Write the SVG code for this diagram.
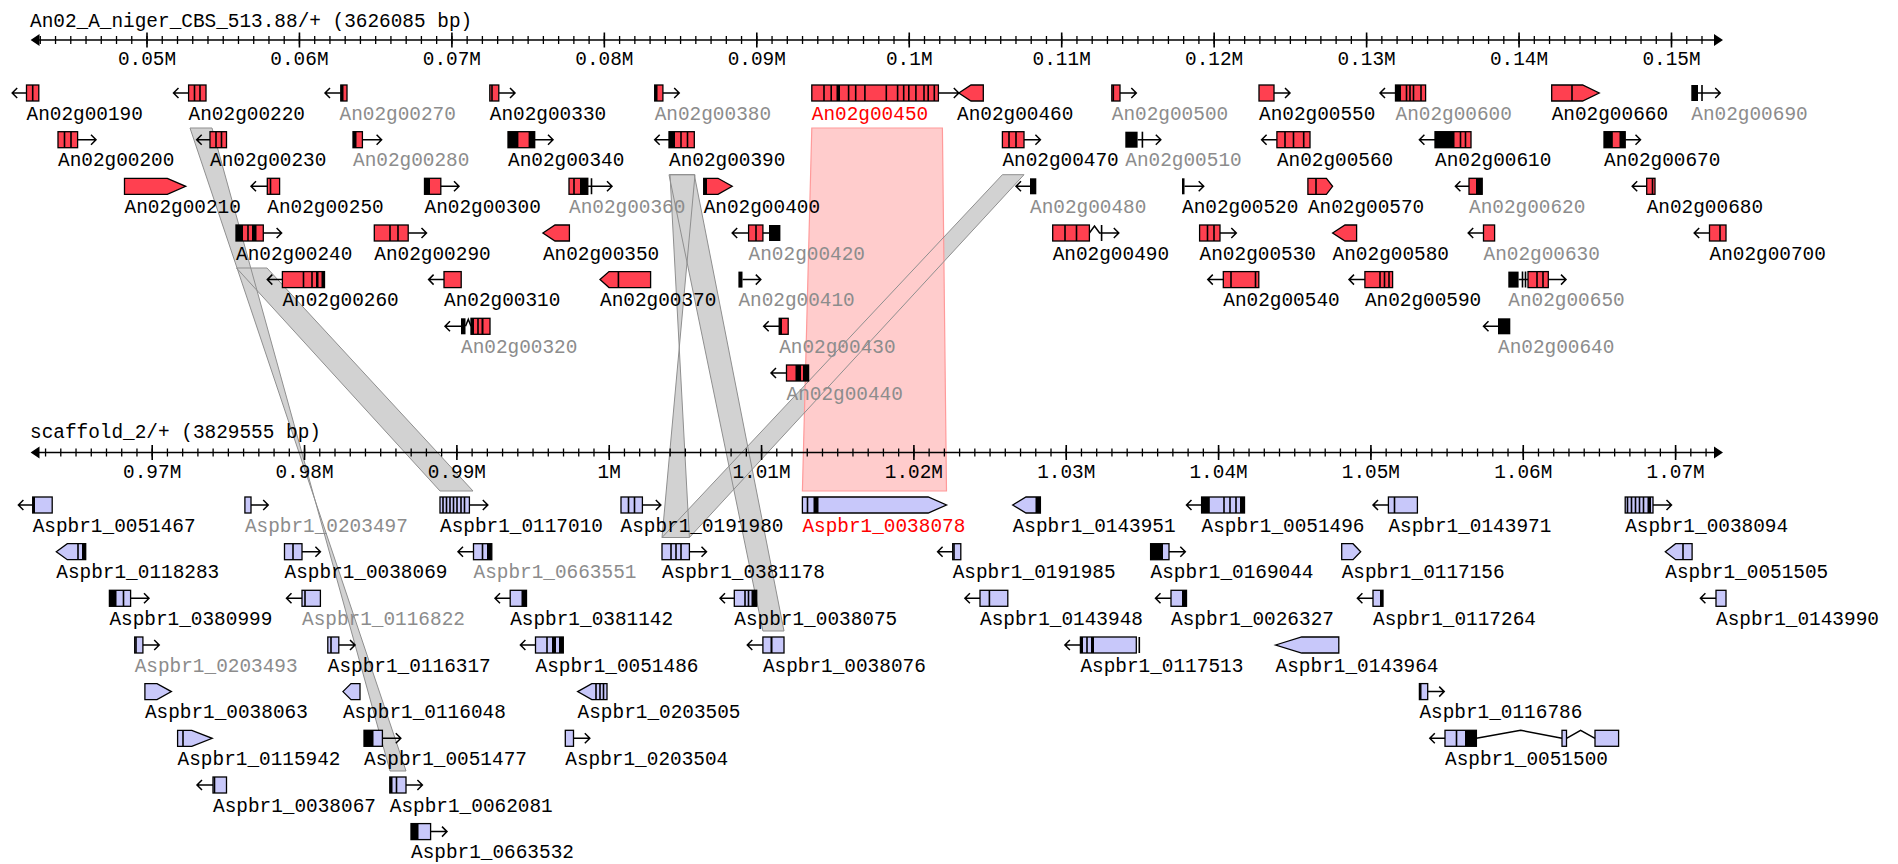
<svg xmlns="http://www.w3.org/2000/svg" xmlns:xlink="http://www.w3.org/1999/xlink" width="1898" height="864" viewBox="0 0 1898 864">
<style>
.t{font-family:"Liberation Mono","DejaVu Sans Mono",monospace;font-size:19.4px;fill:#000}
.g{fill:#8c8c8c}
.r{fill:#ff0000}
.rb{fill:#ff4050;stroke:#000;stroke-width:1.3}
.bb{fill:#c8c8fa;stroke:#000;stroke-width:1.3}
.k{fill:#000}
.s{fill:none;stroke:#000;stroke-width:1.6}
.ar{fill:none;stroke:#000;stroke-width:1.5}
.ax{fill:none;stroke:#000;stroke-width:1.6}
</style>
<defs>
<path id="b1" d="M190 128L212 128L390 771L406 771Z"/>
<path id="b2" d="M236.5 268L267 268L473 491L440 491Z"/>
<path id="b3" d="M670 174.7L695 174.7L662 537.5L689.4 537.5Z"/>
<path id="b4" d="M669 174.7L694.3 174.7L784 631L762.9 631Z"/>
<path id="b5" d="M1002.4 174.7L1024 174.7L689.4 537.5L662 537.5Z"/>
</defs>
<rect width="1898" height="864" fill="#fff"/>

<!-- synteny blocks between the two tracks -->
<g id="synteny">
<g fill="#d2d2d2">
<use xlink:href="#b1"/><use xlink:href="#b2"/><use xlink:href="#b3"/><use xlink:href="#b4"/><use xlink:href="#b5"/>
</g>
<path id="hit-An02g00450" d="M811.8 128H942.4L946.5 491H802.4Z" fill="#ffcccc" stroke="#ff9a9a" stroke-width="1.2"/>
<g fill="none" stroke="#8f8f8f" stroke-width="1">
<use xlink:href="#b1"/><use xlink:href="#b2"/><use xlink:href="#b3"/><use xlink:href="#b4"/><use xlink:href="#b5"/>
</g>
</g>

<!-- top ruler -->
<g id="ruler-top">
<text class="t" x="30" y="27">An02_A_niger_CBS_513.88/+ (3626085 bp)</text>
<path class="ax" d="M34 40H1719"/>
<path d="M30.6 40L39.5 34V46Z M1723 40L1714 34V46Z" fill="#000"/>
<line x1="39.64" y1="40" x2="1703" y2="40" stroke="#000" stroke-width="8" stroke-dasharray="1.3 13.945"/>
<path class="ax" d="M147 32.5v15M299.45 32.5v15M451.9 32.5v15M604.35 32.5v15M756.8 32.5v15M909.25 32.5v15M1061.7 32.5v15M1214.15 32.5v15M1366.6 32.5v15M1519.05 32.5v15M1671.5 32.5v15"/>
<g class="t" text-anchor="middle">
<text x="147" y="65">0.05M</text><text x="299.45" y="65">0.06M</text><text x="451.9" y="65">0.07M</text><text x="604.35" y="65">0.08M</text><text x="756.8" y="65">0.09M</text><text x="909.25" y="65">0.1M</text><text x="1061.7" y="65">0.11M</text><text x="1214.15" y="65">0.12M</text><text x="1366.6" y="65">0.13M</text><text x="1519.05" y="65">0.14M</text><text x="1671.5" y="65">0.15M</text>
</g>
</g>

<!-- bottom ruler -->
<g id="ruler-bottom">
<text class="t" x="30" y="438">scaffold_2/+ (3829555 bp)</text>
<path class="ax" d="M34 452.5H1719"/>
<path d="M30.6 452.5L39.5 446.5V458.5Z M1723 452.5L1714 446.5V458.5Z" fill="#000"/>
<line x1="44.91" y1="452.5" x2="1708" y2="452.5" stroke="#000" stroke-width="8" stroke-dasharray="1.3 13.934"/>
<path class="ax" d="M152.2 445v15M304.54 445v15M456.88 445v15M609.22 445v15M761.56 445v15M913.9 445v15M1066.24 445v15M1218.58 445v15M1370.92 445v15M1523.26 445v15M1675.6 445v15"/>
<g class="t" text-anchor="middle">
<text x="152.2" y="478">0.97M</text><text x="304.54" y="478">0.98M</text><text x="456.88" y="478">0.99M</text><text x="609.22" y="478">1M</text><text x="761.56" y="478">1.01M</text><text x="913.9" y="478">1.02M</text><text x="1066.24" y="478">1.03M</text><text x="1218.58" y="478">1.04M</text><text x="1370.92" y="478">1.05M</text><text x="1523.26" y="478">1.06M</text><text x="1675.6" y="478">1.07M</text>
</g>
</g>

<!-- A. niger genes -->
<g id="An02g00190" transform="translate(0,93)"><path class="ar" d="M26.5 0H12.2M17.2-5 12.2 0 17.2 5"/><rect class="rb" x="26.5" y="-8" width="12.3" height="16"/><path class="s" d="M32.7-8v16"/><text class="t" x="26.5" y="26.5">An02g00190</text></g>
<g id="An02g00220" transform="translate(0,93)"><path class="ar" d="M188.6 0H173.5M178.5-5 173.5 0 178.5 5"/><rect class="rb" x="188.6" y="-8" width="17.4" height="16"/><path class="s" d="M194.5-8v16M200-8v16"/><text class="t" x="188.6" y="26.5">An02g00220</text></g>
<g id="An02g00270" transform="translate(0,93)"><path class="ar" d="M340.8 0H325M330-5 325 0 330 5"/><rect class="rb" x="340.8" y="-8" width="6.2" height="16"/><rect class="k" x="340.8" y="-8" width="2.7" height="16"/><text class="t g" x="339.5" y="26.5">An02g00270</text></g>
<g id="An02g00330" transform="translate(0,93)"><path class="ar" d="M498.8 0H515M510-5 515 0 510 5"/><rect class="rb" x="489.8" y="-8" width="9" height="16"/><path class="s" d="M492-8v16"/><text class="t" x="489.8" y="26.5">An02g00330</text></g>
<g id="An02g00380" transform="translate(0,93)"><path class="ar" d="M662.9 0H679.2M674.2-5 679.2 0 674.2 5"/><rect class="rb" x="654.7" y="-8" width="8.2" height="16"/><rect class="k" x="654.7" y="-8" width="2.8" height="16"/><text class="t g" x="654.7" y="26.5">An02g00380</text></g>
<g id="An02g00450" transform="translate(0,93)"><path class="ar" d="M938.4 0H958.8M953.8-5 958.8 0 953.8 5"/><rect class="rb" x="811.8" y="-8" width="126.6" height="16"/><rect class="k" x="836.5" y="-8" width="3.5" height="16"/><path class="s" d="M824-8v16M831.2-8v16M848.6-8v16M855.7-8v16M864.9-8v16M886.3-8v16M897.6-8v16M903.7-8v16M908.8-8v16M915.9-8v16M924-8v16M928.2-8v16M934.3-8v16"/><text class="t r" x="811.8" y="26.5">An02g00450</text></g>
<g id="An02g00460" transform="translate(0,93)"><path class="rb" d="M958.8 0 971-8H983.3V8H971Z"/><text class="t" x="957" y="26.5">An02g00460</text></g>
<g id="An02g00500" transform="translate(0,93)"><path class="ar" d="M1120 0H1136.3M1131.3-5 1136.3 0 1131.3 5"/><rect class="rb" x="1111.8" y="-8" width="8.2" height="16"/><path class="s" d="M1113.3-8v16"/><text class="t g" x="1111.8" y="26.5">An02g00500</text></g>
<g id="An02g00550" transform="translate(0,93)"><path class="ar" d="M1274 0H1290M1285-5 1290 0 1285 5"/><rect class="rb" x="1259" y="-8" width="15" height="16"/><text class="t" x="1259" y="26.5">An02g00550</text></g>
<g id="An02g00600" transform="translate(0,93)"><path class="ar" d="M1395.5 0H1380M1385-5 1380 0 1385 5"/><rect class="rb" x="1395.5" y="-8" width="30.1" height="16"/><rect class="k" x="1395.5" y="-8" width="5.5" height="16"/><path class="s" d="M1406.5-8v16M1410-8v16M1413.5-8v16M1421-8v16"/><text class="t g" x="1395.5" y="26.5">An02g00600</text></g>
<g id="An02g00660" transform="translate(0,93)"><path class="rb" d="M1551.7-8H1582.6L1599.2 0 1582.6 8H1551.7Z"/><path class="s" d="M1572-8v16"/><text class="t" x="1551.7" y="26.5">An02g00660</text></g>
<g id="An02g00690" transform="translate(0,93)"><path class="ar" d="M1698 0H1720.2M1715.2-5 1720.2 0 1715.2 5"/><rect class="k" x="1691.3" y="-8" width="6.7" height="16"/><path class="s" d="M1702-8v16"/><text class="t g" x="1691.3" y="26.5">An02g00690</text></g>

<g id="An02g00200" transform="translate(0,139.7)"><path class="ar" d="M77.6 0H96M91-5 96 0 91 5"/><rect class="rb" x="58" y="-8" width="19.6" height="16"/><path class="s" d="M64.5-8v16M71-8v16"/><text class="t" x="58" y="26.5">An02g00200</text></g>
<g id="An02g00230" transform="translate(0,139.7)"><path class="ar" d="M210 0H196.7M201.7-5 196.7 0 201.7 5"/><rect class="rb" x="210" y="-8" width="16.5" height="16"/><path class="s" d="M216-8v16M221.5-8v16"/><text class="t" x="210" y="26.5">An02g00230</text></g>
<g id="An02g00280" transform="translate(0,139.7)"><path class="ar" d="M362.4 0H381.6M376.6-5 381.6 0 376.6 5"/><rect class="rb" x="353" y="-8" width="9.4" height="16"/><rect class="k" x="353" y="-8" width="3.5" height="16"/><text class="t g" x="353" y="26.5">An02g00280</text></g>
<g id="An02g00340" transform="translate(0,139.7)"><path class="ar" d="M534.7 0H553M548-5 553 0 548 5"/><rect class="rb" x="508" y="-8" width="26.7" height="16"/><rect class="k" x="508" y="-8" width="10.4" height="16"/><rect class="k" x="528.6" y="-8" width="6.1" height="16"/><text class="t" x="508" y="26.5">An02g00340</text></g>
<g id="An02g00390" transform="translate(0,139.7)"><path class="ar" d="M669 0H654.7M659.7-5 654.7 0 659.7 5"/><rect class="rb" x="669" y="-8" width="25.3" height="16"/><rect class="k" x="669" y="-8" width="6" height="16"/><path class="s" d="M681-8v16M687.5-8v16"/><text class="t" x="669" y="26.5">An02g00390</text></g>
<g id="An02g00470" transform="translate(0,139.7)"><path class="ar" d="M1024 0H1040.4M1035.4-5 1040.4 0 1035.4 5"/><rect class="rb" x="1002.4" y="-8" width="21.6" height="16"/><path class="s" d="M1009-8v16M1016-8v16"/><text class="t" x="1002.4" y="26.5">An02g00470</text></g>
<g id="An02g00510" transform="translate(0,139.7)"><path class="ar" d="M1137.6 0H1160.8M1155.8-5 1160.8 0 1155.8 5"/><rect class="k" x="1125.3" y="-8" width="12.3" height="16"/><path class="s" d="M1142.4-8v16"/><text class="t g" x="1125.3" y="26.5">An02g00510</text></g>
<g id="An02g00560" transform="translate(0,139.7)"><path class="ar" d="M1276.9 0H1261.6M1266.6-5 1261.6 0 1266.6 5"/><rect class="rb" x="1276.9" y="-8" width="33.1" height="16"/><path class="s" d="M1285-8v16M1293.5-8v16M1303.7-8v16"/><text class="t" x="1276.9" y="26.5">An02g00560</text></g>
<g id="An02g00610" transform="translate(0,139.7)"><path class="ar" d="M1435 0H1419.4M1424.4-5 1419.4 0 1424.4 5"/><rect class="rb" x="1435" y="-8" width="36" height="16"/><rect class="k" x="1435" y="-8" width="19.5" height="16"/><path class="s" d="M1460.5-8v16M1465.5-8v16"/><text class="t" x="1435" y="26.5">An02g00610</text></g>
<g id="An02g00670" transform="translate(0,139.7)"><path class="ar" d="M1625.2 0H1640.5M1635.5-5 1640.5 0 1635.5 5"/><rect class="rb" x="1604" y="-8" width="21.2" height="16"/><rect class="k" x="1604" y="-8" width="8.8" height="16"/><rect class="k" x="1619.5" y="-8" width="5.7" height="16"/><text class="t" x="1604" y="26.5">An02g00670</text></g>

<g id="An02g00210" transform="translate(0,186.3)"><path class="rb" d="M124.5-8H167.3L185.7 0 167.3 8H124.5Z"/><text class="t" x="124.5" y="26.5">An02g00210</text></g>
<g id="An02g00250" transform="translate(0,186.3)"><path class="ar" d="M267.3 0H251M256-5 251 0 256 5"/><rect class="rb" x="267.3" y="-8" width="12.3" height="16"/><path class="s" d="M270.5-8v16"/><text class="t" x="267.3" y="26.5">An02g00250</text></g>
<g id="An02g00300" transform="translate(0,186.3)"><path class="ar" d="M440.8 0H459M454-5 459 0 454 5"/><rect class="rb" x="424.5" y="-8" width="16.3" height="16"/><rect class="k" x="424.5" y="-8" width="5.5" height="16"/><text class="t" x="424.5" y="26.5">An02g00300</text></g>
<g id="An02g00360" transform="translate(0,186.3)"><path class="ar" d="M587.8 0H612M607-5 612 0 607 5"/><rect class="rb" x="569" y="-8" width="18.8" height="16"/><path class="s" d="M574-8v16M591.5-8v16"/><rect class="k" x="580" y="-8" width="7.8" height="16"/><text class="t g" x="569" y="26.5">An02g00360</text></g>
<g id="An02g00400" transform="translate(0,186.3)"><path class="rb" d="M703.7-8H718L732.2 0 718 8H703.7Z"/><rect class="k" x="703.7" y="-8" width="3.3" height="16"/><text class="t" x="703.7" y="26.5">An02g00400</text></g>
<g id="An02g00480" transform="translate(0,186.3)"><path class="ar" d="M1030 0H1016M1021-5 1016 0 1021 5"/><rect class="k" x="1030" y="-8" width="6.3" height="16"/><text class="t g" x="1030" y="26.5">An02g00480</text></g>
<g id="An02g00520" transform="translate(0,186.3)"><path class="ar" d="M1184.5 0H1203.7M1198.7-5 1203.7 0 1198.7 5"/><rect class="k" x="1182" y="-8" width="2.5" height="16"/><text class="t" x="1182" y="26.5">An02g00520</text></g>
<g id="An02g00570" transform="translate(0,186.3)"><path class="rb" d="M1307.9-8H1326.4L1332.6 0 1326.4 8H1307.9Z"/><path class="s" d="M1316-8v16"/><text class="t" x="1307.9" y="26.5">An02g00570</text></g>
<g id="An02g00620" transform="translate(0,186.3)"><path class="ar" d="M1469 0H1455.4M1460.4-5 1455.4 0 1460.4 5"/><rect class="rb" x="1469" y="-8" width="13.2" height="16"/><rect class="k" x="1476" y="-8" width="6.2" height="16"/><text class="t g" x="1469" y="26.5">An02g00620</text></g>
<g id="An02g00680" transform="translate(0,186.3)"><path class="ar" d="M1646.7 0H1632.2M1637.2-5 1632.2 0 1637.2 5"/><rect class="rb" x="1646.7" y="-8" width="8.3" height="16"/><path class="s" d="M1652.5-8v16"/><text class="t" x="1646.7" y="26.5">An02g00680</text></g>

<g id="An02g00240" transform="translate(0,233)"><path class="ar" d="M263.3 0H281.6M276.6-5 281.6 0 276.6 5"/><rect class="rb" x="236" y="-8" width="27.3" height="16"/><rect class="k" x="236" y="-8" width="7" height="16"/><path class="s" d="M248-8v16"/><rect class="k" x="252" y="-8" width="4.5" height="16"/><text class="t" x="236" y="26.5">An02g00240</text></g>
<g id="An02g00290" transform="translate(0,233)"><path class="ar" d="M408.2 0H426.5M421.5-5 426.5 0 421.5 5"/><rect class="rb" x="374.3" y="-8" width="33.9" height="16"/><path class="s" d="M390-8v16M398-8v16"/><text class="t" x="374.3" y="26.5">An02g00290</text></g>
<g id="An02g00350" transform="translate(0,233)"><path class="rb" d="M542.9 0 555-8H569.4V8H555Z"/><text class="t" x="542.9" y="26.5">An02g00350</text></g>
<g id="An02g00420" transform="translate(0,233)"><path class="ar" d="M769 0H732.2M737.2-5 732.2 0 737.2 5"/><rect class="rb" x="748.6" y="-8" width="14.3" height="16"/><path class="s" d="M756-8v16"/><rect class="k" x="769" y="-8" width="11.4" height="16"/><text class="t g" x="748.6" y="26.5">An02g00420</text></g>
<g id="An02g00490" transform="translate(0,233)"><path class="ar" d="M1089.4 0 1094.5-7 1099.6 0H1118.8M1113.8-5 1118.8 0 1113.8 5"/><rect class="rb" x="1052.7" y="-8" width="36.7" height="16"/><path class="s" d="M1065-8v16M1076.5-8v16M1101.6-8v16"/><text class="t" x="1052.7" y="26.5">An02g00490</text></g>
<g id="An02g00530" transform="translate(0,233)"><path class="ar" d="M1220 0H1236.3M1231.3-5 1236.3 0 1231.3 5"/><rect class="rb" x="1199.6" y="-8" width="20.4" height="16"/><path class="s" d="M1207.5-8v16M1214-8v16"/><text class="t" x="1199.6" y="26.5">An02g00530</text></g>
<g id="An02g00580" transform="translate(0,233)"><path class="rb" d="M1332.6 0 1345-8H1356.6V8H1345Z"/><text class="t" x="1332.6" y="26.5">An02g00580</text></g>
<g id="An02g00630" transform="translate(0,233)"><path class="ar" d="M1483.5 0H1468.2M1473.2-5 1468.2 0 1473.2 5"/><rect class="rb" x="1483.5" y="-8" width="11.1" height="16"/><text class="t g" x="1483.5" y="26.5">An02g00630</text></g>
<g id="An02g00700" transform="translate(0,233)"><path class="ar" d="M1709.5 0H1694.2M1699.2-5 1694.2 0 1699.2 5"/><rect class="rb" x="1709.5" y="-8" width="16.5" height="16"/><path class="s" d="M1720-8v16"/><text class="t" x="1709.5" y="26.5">An02g00700</text></g>

<g id="An02g00260" transform="translate(0,279.6)"><path class="ar" d="M282.4 0H267.3M272.3-5 267.3 0 272.3 5"/><rect class="rb" x="282.4" y="-8" width="42.1" height="16"/><path class="s" d="M303.5-8v16M312-8v16"/><rect class="k" x="316" y="-8" width="2.5" height="16"/><rect class="k" x="321.5" y="-8" width="3" height="16"/><text class="t" x="282.4" y="26.5">An02g00260</text></g>
<g id="An02g00310" transform="translate(0,279.6)"><path class="ar" d="M444 0H428.6M433.6-5 428.6 0 433.6 5"/><rect class="rb" x="444" y="-8" width="17.2" height="16"/><text class="t" x="444" y="26.5">An02g00310</text></g>
<g id="An02g00370" transform="translate(0,279.6)"><path class="rb" d="M600 0 609-8H650.6V8H609Z"/><path class="s" d="M618.4-8v16"/><text class="t" x="600" y="26.5">An02g00370</text></g>
<g id="An02g00410" transform="translate(0,279.6)"><path class="ar" d="M742.5 0H760.8M755.8-5 760.8 0 755.8 5"/><rect class="k" x="738.4" y="-8" width="4.1" height="16"/><text class="t g" x="738.4" y="26.5">An02g00410</text></g>
<g id="An02g00540" transform="translate(0,279.6)"><path class="ar" d="M1223.3 0H1207.8M1212.8-5 1207.8 0 1212.8 5"/><rect class="rb" x="1223.3" y="-8" width="35.5" height="16"/><path class="s" d="M1231-8v16M1255.5-8v16"/><text class="t" x="1223.3" y="26.5">An02g00540</text></g>
<g id="An02g00590" transform="translate(0,279.6)"><path class="ar" d="M1364.9 0H1349M1354-5 1349 0 1354 5"/><rect class="rb" x="1364.9" y="-8" width="27.7" height="16"/><path class="s" d="M1380-8v16M1384.5-8v16M1389-8v16"/><text class="t" x="1364.9" y="26.5">An02g00590</text></g>
<g id="An02g00650" transform="translate(0,279.6)"><path class="ar" d="M1518.6 0H1528M1548.3 0H1566M1561-5 1566 0 1561 5"/><rect class="k" x="1508.3" y="-8" width="10.3" height="16"/><path class="s" d="M1522.5-8v16M1525.5-8v16"/><rect class="rb" x="1528" y="-8" width="20.3" height="16"/><path class="s" d="M1537-8v16M1543-8v16"/><text class="t g" x="1508.3" y="26.5">An02g00650</text></g>

<g id="An02g00320" transform="translate(0,326.3)"><path class="ar" d="M461 0H445M450-5 445 0 450 5M465.5 0 468.3-7 471 0"/><rect class="k" x="461" y="-8" width="4.5" height="16"/><rect class="rb" x="471" y="-8" width="19" height="16"/><rect class="k" x="471" y="-8" width="3" height="16"/><path class="s" d="M478-8v16"/><rect class="k" x="481.5" y="-8" width="2" height="16"/><text class="t g" x="461" y="26.5">An02g00320</text></g>
<g id="An02g00430" transform="translate(0,326.3)"><path class="ar" d="M779.2 0H763.7M768.7-5 763.7 0 768.7 5"/><rect class="rb" x="779.2" y="-8" width="9" height="16"/><rect class="k" x="779.2" y="-8" width="2.8" height="16"/><text class="t g" x="779.2" y="26.5">An02g00430</text></g>
<g id="An02g00640" transform="translate(0,326.3)"><path class="ar" d="M1498 0H1483.5M1488.5-5 1483.5 0 1488.5 5"/><rect class="k" x="1498" y="-8" width="12.3" height="16"/><text class="t g" x="1498" y="26.5">An02g00640</text></g>

<g id="An02g00440" transform="translate(0,373)"><path class="ar" d="M786.5 0H771M776-5 771 0 776 5"/><rect class="rb" x="786.5" y="-8" width="22.1" height="16"/><rect class="k" x="795.5" y="-8" width="5.5" height="16"/><rect class="k" x="803" y="-8" width="5.6" height="16"/><text class="t g" x="786.5" y="26.5">An02g00440</text></g>

<!-- A. brasiliensis genes -->
<g id="Aspbr1_0051467" transform="translate(0,505)"><path class="ar" d="M32.7 0H18.4M23.4-5 18.4 0 23.4 5"/><rect class="bb" x="32.7" y="-8" width="19.5" height="16"/><rect class="k" x="32.7" y="-8" width="2.3" height="16"/><text class="t" x="32.7" y="26.5">Aspbr1_0051467</text></g>
<g id="Aspbr1_0203497" transform="translate(0,505)"><path class="ar" d="M251 0H268.2M263.2-5 268.2 0 263.2 5"/><rect class="bb" x="244.9" y="-8" width="6.1" height="16"/><text class="t g" x="244.9" y="26.5">Aspbr1_0203497</text></g>
<g id="Aspbr1_0117010" transform="translate(0,505)"><path class="ar" d="M469.4 0H487.8M482.8-5 487.8 0 482.8 5"/><rect class="bb" x="440" y="-8" width="29.4" height="16"/><path class="s" d="M443-8v16M446.5-8v16M450-8v16M453.5-8v16M457-8v16M461-8v16M464.5-8v16"/><text class="t" x="440" y="26.5">Aspbr1_0117010</text></g>
<g id="Aspbr1_0191980" transform="translate(0,505)"><path class="ar" d="M642.4 0H660.8M655.8-5 660.8 0 655.8 5"/><rect class="bb" x="621" y="-8" width="21.4" height="16"/><path class="s" d="M628.5-8v16M634.5-8v16"/><text class="t" x="620.5" y="26.5">Aspbr1_0191980</text></g>
<g id="Aspbr1_0038078" transform="translate(0,505)"><path class="bb" d="M802.4-8H928.2L946.5 0 928.2 8H802.4Z"/><path class="s" d="M807.5-8v16"/><rect class="k" x="813.5" y="-8" width="5" height="16"/><text class="t r" x="802.4" y="26.5">Aspbr1_0038078</text></g>
<g id="Aspbr1_0143951" transform="translate(0,505)"><path class="bb" d="M1012.7 0 1026-8H1040.4V8H1026Z"/><rect class="k" x="1035.5" y="-8" width="4.9" height="16"/><text class="t" x="1012.7" y="26.5">Aspbr1_0143951</text></g>
<g id="Aspbr1_0051496" transform="translate(0,505)"><path class="ar" d="M1201.6 0H1186.5M1191.5-5 1186.5 0 1191.5 5"/><rect class="bb" x="1201.6" y="-8" width="42.9" height="16"/><rect class="k" x="1201.6" y="-8" width="8.2" height="16"/><path class="s" d="M1224-8v16M1230-8v16M1236-8v16"/><rect class="k" x="1240" y="-8" width="4.5" height="16"/><text class="t" x="1201.6" y="26.5">Aspbr1_0051496</text></g>
<g id="Aspbr1_0143971" transform="translate(0,505)"><path class="ar" d="M1388.4 0H1373M1378-5 1373 0 1378 5"/><rect class="bb" x="1388.4" y="-8" width="29" height="16"/><path class="s" d="M1394.5-8v16"/><text class="t" x="1388.4" y="26.5">Aspbr1_0143971</text></g>
<g id="Aspbr1_0038094" transform="translate(0,505)"><path class="ar" d="M1653 0H1671.5M1666.5-5 1671.5 0 1666.5 5"/><rect class="bb" x="1625.2" y="-8" width="27.8" height="16"/><path class="s" d="M1627.5-8v16M1631.5-8v16M1635.5-8v16M1639.5-8v16M1643.5-8v16"/><rect class="k" x="1647.5" y="-8" width="3.5" height="16"/><text class="t" x="1625.2" y="26.5">Aspbr1_0038094</text></g>

<g id="Aspbr1_0118283" transform="translate(0,551.7)"><path class="bb" d="M56.3 0 67.3-8H85.7V8H67.3Z"/><path class="s" d="M78-8v16"/><rect class="k" x="82" y="-8" width="3.7" height="16"/><text class="t" x="56.3" y="26.5">Aspbr1_0118283</text></g>
<g id="Aspbr1_0038069" transform="translate(0,551.7)"><path class="ar" d="M302 0H320.4M315.4-5 320.4 0 315.4 5"/><rect class="bb" x="284.5" y="-8" width="17.5" height="16"/><path class="s" d="M293-8v16"/><text class="t" x="284.5" y="26.5">Aspbr1_0038069</text></g>
<g id="Aspbr1_0663551" transform="translate(0,551.7)"><path class="ar" d="M473.5 0H458M463-5 458 0 463 5"/><rect class="bb" x="473.5" y="-8" width="18.3" height="16"/><path class="s" d="M482.5-8v16"/><rect class="k" x="487" y="-8" width="4.8" height="16"/><text class="t g" x="473.5" y="26.5">Aspbr1_0663551</text></g>
<g id="Aspbr1_0381178" transform="translate(0,551.7)"><path class="ar" d="M689.4 0H706.5M701.5-5 706.5 0 701.5 5"/><rect class="bb" x="662" y="-8" width="27.4" height="16"/><path class="s" d="M671-8v16M676-8v16M681-8v16"/><text class="t" x="662" y="26.5">Aspbr1_0381178</text></g>
<g id="Aspbr1_0191985" transform="translate(0,551.7)"><path class="ar" d="M952.7 0H937.6M942.6-5 937.6 0 942.6 5"/><rect class="bb" x="952.7" y="-8" width="8.1" height="16"/><path class="s" d="M954-8v16"/><text class="t" x="952.7" y="26.5">Aspbr1_0191985</text></g>
<g id="Aspbr1_0169044" transform="translate(0,551.7)"><path class="ar" d="M1169 0H1185.3M1180.3-5 1185.3 0 1180.3 5"/><rect class="bb" x="1150.6" y="-8" width="18.4" height="16"/><rect class="k" x="1150.6" y="-8" width="12.4" height="16"/><text class="t" x="1150.6" y="26.5">Aspbr1_0169044</text></g>
<g id="Aspbr1_0117156" transform="translate(0,551.7)"><path class="bb" d="M1341.7-8H1353L1360.7 0 1353 8H1341.7Z"/><text class="t" x="1341.7" y="26.5">Aspbr1_0117156</text></g>
<g id="Aspbr1_0051505" transform="translate(0,551.7)"><path class="bb" d="M1665.3 0 1675.6-8H1692.1V8H1675.6Z"/><path class="s" d="M1683-8v16"/><text class="t" x="1665.3" y="26.5">Aspbr1_0051505</text></g>

<g id="Aspbr1_0380999" transform="translate(0,598.3)"><path class="ar" d="M130.6 0H149M144-5 149 0 144 5"/><rect class="bb" x="109.4" y="-8" width="21.2" height="16"/><rect class="k" x="109.4" y="-8" width="7.1" height="16"/><path class="s" d="M123.5-8v16"/><text class="t" x="109.4" y="26.5">Aspbr1_0380999</text></g>
<g id="Aspbr1_0116822" transform="translate(0,598.3)"><path class="ar" d="M302 0H286.5M291.5-5 286.5 0 291.5 5"/><rect class="bb" x="302" y="-8" width="18.4" height="16"/><path class="s" d="M305-8v16"/><text class="t g" x="302" y="26.5">Aspbr1_0116822</text></g>
<g id="Aspbr1_0381142" transform="translate(0,598.3)"><path class="ar" d="M510.2 0H495M500-5 495 0 500 5"/><rect class="bb" x="510.2" y="-8" width="16.3" height="16"/><rect class="k" x="521.5" y="-8" width="5" height="16"/><text class="t" x="510.2" y="26.5">Aspbr1_0381142</text></g>
<g id="Aspbr1_0038075" transform="translate(0,598.3)"><path class="ar" d="M734.3 0H720M725-5 720 0 725 5"/><rect class="bb" x="734.3" y="-8" width="22.4" height="16"/><path class="s" d="M745-8v16M748.5-8v16"/><rect class="k" x="751.5" y="-8" width="5.2" height="16"/><text class="t" x="734.3" y="26.5">Aspbr1_0038075</text></g>
<g id="Aspbr1_0143948" transform="translate(0,598.3)"><path class="ar" d="M980 0H964.9M969.9-5 964.9 0 969.9 5"/><rect class="bb" x="980" y="-8" width="27.8" height="16"/><path class="s" d="M989.4-8v16"/><text class="t" x="980" y="26.5">Aspbr1_0143948</text></g>
<g id="Aspbr1_0026327" transform="translate(0,598.3)"><path class="ar" d="M1171 0H1155.5M1160.5-5 1155.5 0 1160.5 5"/><rect class="bb" x="1171" y="-8" width="15.5" height="16"/><rect class="k" x="1182" y="-8" width="4.5" height="16"/><text class="t" x="1171" y="26.5">Aspbr1_0026327</text></g>
<g id="Aspbr1_0117264" transform="translate(0,598.3)"><path class="ar" d="M1373 0H1357.4M1362.4-5 1357.4 0 1362.4 5"/><rect class="bb" x="1373" y="-8" width="10" height="16"/><rect class="k" x="1380" y="-8" width="3" height="16"/><text class="t" x="1373" y="26.5">Aspbr1_0117264</text></g>
<g id="Aspbr1_0143990" transform="translate(0,598.3)"><path class="ar" d="M1716 0H1700.4M1705.4-5 1700.4 0 1705.4 5"/><rect class="bb" x="1716" y="-8" width="10" height="16"/><text class="t" x="1716" y="26.5">Aspbr1_0143990</text></g>

<g id="Aspbr1_0203493" transform="translate(0,645)"><path class="ar" d="M142.9 0H159.2M154.2-5 159.2 0 154.2 5"/><rect class="bb" x="134.7" y="-8" width="8.2" height="16"/><path class="s" d="M136-8v16"/><text class="t g" x="134.7" y="26.5">Aspbr1_0203493</text></g>
<g id="Aspbr1_0116317" transform="translate(0,645)"><path class="ar" d="M338.8 0H355M350-5 355 0 350 5"/><rect class="bb" x="327.8" y="-8" width="11" height="16"/><path class="s" d="M331-8v16"/><text class="t" x="327.8" y="26.5">Aspbr1_0116317</text></g>
<g id="Aspbr1_0051486" transform="translate(0,645)"><path class="ar" d="M535.5 0H520.4M525.4-5 520.4 0 525.4 5"/><rect class="bb" x="535.5" y="-8" width="27.8" height="16"/><path class="s" d="M547-8v16"/><rect class="k" x="552" y="-8" width="4" height="16"/><rect class="k" x="559" y="-8" width="4.3" height="16"/><text class="t" x="535.5" y="26.5">Aspbr1_0051486</text></g>
<g id="Aspbr1_0038076" transform="translate(0,645)"><path class="ar" d="M762.9 0H747.3M752.3-5 747.3 0 752.3 5"/><rect class="bb" x="762.9" y="-8" width="21.1" height="16"/><rect class="k" x="770.5" y="-8" width="2" height="16"/><text class="t" x="762.9" y="26.5">Aspbr1_0038076</text></g>
<g id="Aspbr1_0117513" transform="translate(0,645)"><path class="ar" d="M1080.4 0H1064.9M1069.9-5 1064.9 0 1069.9 5"/><rect class="bb" x="1080.4" y="-8" width="55.9" height="16"/><rect class="k" x="1080.4" y="-8" width="2.6" height="16"/><path class="s" d="M1087-8v16M1139.3-8v16"/><rect class="k" x="1091" y="-8" width="3" height="16"/><text class="t" x="1080.4" y="26.5">Aspbr1_0117513</text></g>
<g id="Aspbr1_0143964" transform="translate(0,645)"><path class="bb" d="M1275.6 0 1301.7-8H1338.8V8H1301.7Z"/><text class="t" x="1275.6" y="26.5">Aspbr1_0143964</text></g>

<g id="Aspbr1_0038063" transform="translate(0,691.6)"><path class="bb" d="M144.9-8H157L171.4 0 157 8H144.9Z"/><text class="t" x="144.9" y="26.5">Aspbr1_0038063</text></g>
<g id="Aspbr1_0116048" transform="translate(0,691.6)"><path class="bb" d="M342.9 0 351-8H360V8H351Z"/><text class="t" x="342.9" y="26.5">Aspbr1_0116048</text></g>
<g id="Aspbr1_0203505" transform="translate(0,691.6)"><path class="bb" d="M577.6 0 591.8-8H607V8H591.8Z"/><path class="s" d="M596-8v16M600-8v16M603.5-8v16"/><text class="t" x="577.6" y="26.5">Aspbr1_0203505</text></g>
<g id="Aspbr1_0116786" transform="translate(0,691.6)"><path class="ar" d="M1427.7 0H1444.2M1439.2-5 1444.2 0 1439.2 5"/><rect class="bb" x="1419.4" y="-8" width="8.3" height="16"/><rect class="k" x="1419.4" y="-8" width="2.1" height="16"/><text class="t" x="1419.4" y="26.5">Aspbr1_0116786</text></g>

<g id="Aspbr1_0115942" transform="translate(0,738.3)"><path class="bb" d="M177.6-8H191.8L212.2 0 191.8 8H177.6Z"/><path class="s" d="M183-8v16"/><text class="t" x="177.6" y="26.5">Aspbr1_0115942</text></g>
<g id="Aspbr1_0051477" transform="translate(0,738.3)"><path class="ar" d="M382.4 0H400.8M395.8-5 400.8 0 395.8 5"/><rect class="bb" x="364" y="-8" width="18.4" height="16"/><rect class="k" x="364" y="-8" width="9.5" height="16"/><text class="t" x="364" y="26.5">Aspbr1_0051477</text></g>
<g id="Aspbr1_0203504" transform="translate(0,738.3)"><path class="ar" d="M573.5 0H589.8M584.8-5 589.8 0 584.8 5"/><rect class="bb" x="565.3" y="-8" width="8.2" height="16"/><text class="t" x="565.3" y="26.5">Aspbr1_0203504</text></g>
<g id="Aspbr1_0051500" transform="translate(0,738.3)"><path class="ar" d="M1445 0H1429.8M1434.8-5 1429.8 0 1434.8 5M1476.4 0 1520.7-8 1562 0M1566.5 0 1580.6-8 1595 0"/><rect class="bb" x="1445" y="-8" width="31.4" height="16"/><path class="s" d="M1456.5-8v16"/><rect class="k" x="1465" y="-8" width="11.4" height="16"/><rect class="bb" x="1562" y="-8" width="4.5" height="16"/><rect class="bb" x="1595" y="-8" width="23.6" height="16"/><text class="t" x="1445" y="26.5">Aspbr1_0051500</text></g>

<g id="Aspbr1_0038067" transform="translate(0,785)"><path class="ar" d="M213 0H197M202-5 197 0 202 5"/><rect class="bb" x="213" y="-8" width="13.5" height="16"/><path class="s" d="M214.5-8v16"/><text class="t" x="213" y="26.5">Aspbr1_0038067</text></g>
<g id="Aspbr1_0062081" transform="translate(0,785)"><path class="ar" d="M406 0H422.4M417.4-5 422.4 0 417.4 5"/><rect class="bb" x="389.8" y="-8" width="16.2" height="16"/><rect class="k" x="389.8" y="-8" width="2.7" height="16"/><path class="s" d="M396.5-8v16"/><text class="t" x="389.8" y="26.5">Aspbr1_0062081</text></g>

<g id="Aspbr1_0663532" transform="translate(0,831.6)"><path class="ar" d="M430.6 0H447M442-5 447 0 442 5"/><rect class="bb" x="411" y="-8" width="19.6" height="16"/><rect class="k" x="411" y="-8" width="7.5" height="16"/><text class="t" x="411" y="26.5">Aspbr1_0663532</text></g>
</svg>
